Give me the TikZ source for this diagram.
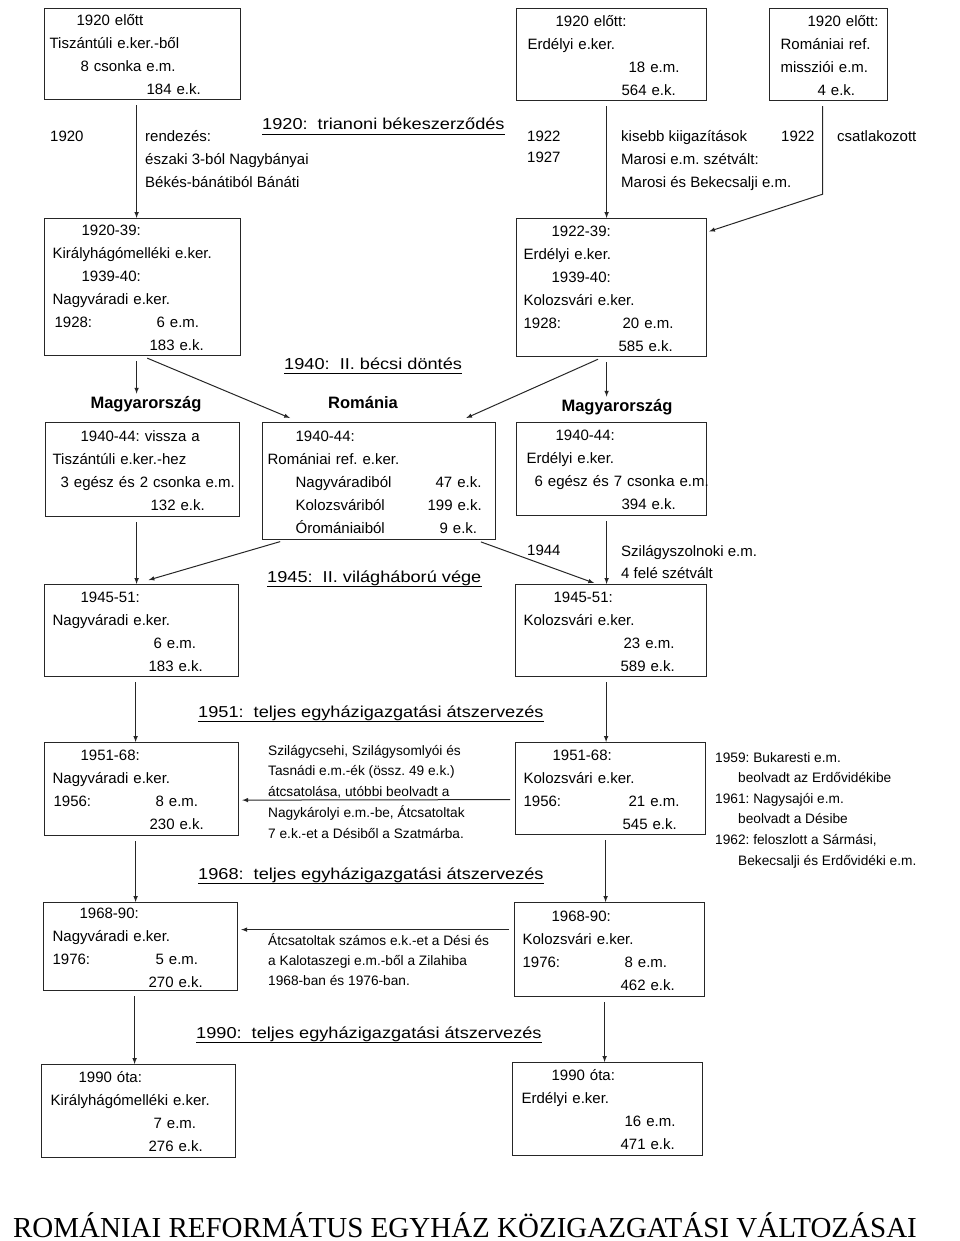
\documentclass[tikz,border=0pt]{standalone}
\usepackage{fontspec}
\setmainfont{Liberation Sans}
\newfontfamily\headfont[FakeStretch=1.15]{Liberation Sans}
\newfontfamily\titlefont{Liberation Serif}
\usepackage{tikz}
\usetikzlibrary{
  arrows,
  calc
}
\tikzset{>=latex}
\frenchspacing
% one line piece at a fixed distance from the left side of a box
\newcommand\putat[2]{\makebox[0pt][l]{\hspace*{#1pt}\rule[-3pt]{0pt}{18pt}#2}}
\tikzset{
  ebox/.style 2 args={draw=black!85, line width=1.2pt, anchor=north west,
    inner sep=0pt, text width=#1, minimum height=#2, align=left,
    font=\fontsize{15}{23}\selectfont},
  lbl/.style={anchor=base west, inner sep=0pt, font=\fontsize{15}{18}\selectfont},
  small/.style={anchor=base west, inner sep=0pt, font=\fontsize{13.7}{16}\selectfont},
  head/.style={anchor=base west, inner sep=0pt, font=\headfont\fontsize{15.8}{18}\selectfont},
  land/.style={anchor=base, inner sep=2pt, font=\bfseries\fontsize{16.5}{18}\selectfont},
  flow/.style={->, line width=1pt, draw=black!85, shorten <=5pt},
}

\begin{document}
\begin{tikzpicture}[x=1pt,y=-1pt]
  \useasboundingbox (0,0) rectangle (960,1241);

  % 1920 elott
  \node[ebox={196pt}{91pt}] (tisza1920) at (44,8) {%
    \putat{32}{1920 előtt}\\
    \putat{5}{Tiszántúli e.ker.-ből}\\
    \putat{36}{8 csonka e.m.}\\
    \putat{102}{184 e.k.}};
  \node[ebox={190pt}{92pt}] (erdely1920) at (516,8) {%
    \putat{39}{1920 előtt:}\\
    \putat{11}{Erdélyi e.ker.}\\
    \putat{112}{18 e.m.}\\
    \putat{105}{564 e.k.}};
  \node[ebox={118pt}{92pt}] (roman1920) at (769,8) {%
    \putat{38}{1920 előtt:}\\
    \putat{11}{Romániai ref.}\\
    \putat{11}{missziói e.m.}\\
    \putat{48}{4 e.k.}};

  \node[lbl] (ev1920) at (50,142) {1920};
  \foreach \t [count=\i] in {rendezés:, északi 3-ból Nagybányai, Békés-bánátiból Bánáti}
    \node[lbl] (rend-\i) at (145,{119+23*\i}) {\t};
  \node[lbl] (ev1922) at (527,142) {1922};
  \node[lbl] (ev1927) at (527,163) {1927};
  \foreach \t [count=\i] in {kisebb kiigazítások, Marosi e.m. szétvált:, Marosi és Bekecsalji e.m.}
    \node[lbl] (kig-\i) at (621,{119+23*\i}) {\t};
  \node[lbl] (csat1922) at (781,142) {1922};
  \node[lbl] (csatlakozott) at (837,142) {csatlakozott};

  % 1920-1940
  \node[ebox={196pt}{137pt}] (kiraly1920) at (44,218) {%
    \putat{37}{1920-39:}\\
    \putat{8}{Királyhágómelléki e.ker.}\\
    \putat{37}{1939-40:}\\
    \putat{8}{Nagyváradi e.ker.}\\
    \putat{10}{1928:}\putat{112}{6 e.m.}\\
    \putat{105}{183 e.k.}};
  \node[ebox={190pt}{138pt}] (erdely1922) at (516,218) {%
    \putat{35}{1922-39:}\\
    \putat{7}{Erdélyi e.ker.}\\
    \putat{35}{1939-40:}\\
    \putat{7}{Kolozsvári e.ker.}\\
    \putat{7}{1928:}\putat{106}{20 e.m.}\\
    \putat{102}{585 e.k.}};

  \node[land] (magyL) at (146,408) {Magyarország};
  \node[land] (romL) at (363,408) {Románia};
  \node[land] (magyR) at (617,411) {Magyarország};

  % 1940-44
  \node[ebox={194pt}{94pt}] (tisza1940) at (45,422) {%
    \putat{35}{1940-44: vissza a}\\
    \putat{7}{Tiszántúli e.ker.-hez}\\
    \putat{15}{3 egész és 2 csonka e.m.}\\
    \putat{105}{132 e.k.}};
  \node[ebox={233pt}{117pt}] (romania1940) at (262,422) {%
    \putat{33}{1940-44:}\\
    \putat{5}{Romániai ref. e.ker.}\\
    \putat{33}{Nagyváradiból}\putat{173}{47 e.k.}\\
    \putat{33}{Kolozsváriból}\putat{165}{199 e.k.}\\
    \putat{33}{Óromániaiból}\putat{177}{9 e.k.}};
  \node[ebox={190pt}{93pt}] (erdely1940) at (516,422) {%
    \putat{39}{1940-44:}\\
    \putat{10}{Erdélyi e.ker.}\\
    \putat{18}{6 egész és 7 csonka e.m.}\\
    \putat{105}{394 e.k.}};

  \node[lbl] (ev1944) at (527,555) {1944};
  \node[lbl] (szolnok-1) at (621,556) {Szilágyszolnoki e.m.};
  \node[lbl] (szolnok-2) at (621,578) {4 felé szétvált};

  % 1945-51
  \node[ebox={194pt}{92pt}] (nagyv1945) at (44,584) {%
    \putat{36}{1945-51:}\\
    \putat{8}{Nagyváradi e.ker.}\\
    \putat{109}{6 e.m.}\\
    \putat{104}{183 e.k.}};
  \node[ebox={191pt}{92pt}] (kolozs1945) at (515,584) {%
    \putat{38}{1945-51:}\\
    \putat{8}{Kolozsvári e.ker.}\\
    \putat{108}{23 e.m.}\\
    \putat{105}{589 e.k.}};

  % 1951-68
  \node[ebox={194pt}{93pt}] (nagyv1951) at (44,742) {%
    \putat{36}{1951-68:}\\
    \putat{8}{Nagyváradi e.ker.}\\
    \putat{9}{1956:}\putat{111}{8 e.m.}\\
    \putat{105}{230 e.k.}};
  \node[ebox={190pt}{92pt}] (kolozs1951) at (515,742) {%
    \putat{37}{1951-68:}\\
    \putat{8}{Kolozsvári e.ker.}\\
    \putat{8}{1956:}\putat{113}{21 e.m.}\\
    \putat{107}{545 e.k.}};

  \foreach \t [count=\i] in {{Szilágycsehi, Szilágysomlyói és}, Tasnádi e.m.-ék (össz. 49 e.k.),
      {átcsatolása, utóbbi beolvadt a}, {Nagykárolyi e.m.-be, Átcsatoltak}, 7 e.k.-et a Désiből a Szatmárba.}
    \node[small] (atcs51-\i) at (268,{734.2+20.8*\i}) {\t};
  \foreach \dx/\t [count=\i] in {715/1959: Bukaresti e.m., 738/beolvadt az Erdővidékibe,
      715/1961: Nagysajói e.m., 738/beolvadt a Désibe,
      {715/1962: feloszlott a Sármási,}, 738/Bekecsalji és Erdővidéki e.m.}
    \node[small] (kolv-\i) at (\dx,{741.4+20.6*\i}) {\t};

  % 1968-90
  \node[ebox={194pt}{88pt}] (nagyv1968) at (43,902) {%
    \putat{36}{1968-90:}\\
    \putat{9}{Nagyváradi e.ker.}\\
    \putat{9}{1976:}\putat{112}{5 e.m.}\\
    \putat{105}{270 e.k.}};
  \node[ebox={190pt}{94pt}] (kolozs1968) at (514,902) {%
    \putat{37}{1968-90:}\\
    \putat{8}{Kolozsvári e.ker.}\\
    \putat{8}{1976:}\putat{110}{8 e.m.}\\
    \putat{106}{462 e.k.}};

  \foreach \t [count=\i] in {Átcsatoltak számos e.k.-et a Dési és,
      a Kalotaszegi e.m.-ből a Zilahiba, 1968-ban és 1976-ban.}
    \node[small] (atcs68-\i) at (268,{925+20*\i}) {\t};

  % 1990 ota
  \node[ebox={194pt}{93pt}] (kiraly1990) at (41,1064) {%
    \putat{37}{1990 óta:}\\
    \putat{9}{Királyhágómelléki e.ker.}\\
    \putat{112}{7 e.m.}\\
    \putat{107}{276 e.k.}};
  \node[ebox={190pt}{93pt}] (erdely1990) at (512,1062) {%
    \putat{39}{1990 óta:}\\
    \putat{9}{Erdélyi e.ker.}\\
    \putat{112}{16 e.m.}\\
    \putat{108}{471 e.k.}};

  % events
  \node[head] (trianon) at (262,130) {1920:\ \ trianoni békeszerződés};
  \node[head] (becsi) at (284,369) {1940:\ \ II. bécsi döntés};
  \node[head] (vilagh) at (267,582) {1945:\ \ II. világháború vége};
  \node[head] (reorg51) at (198,717) {1951:\ \ teljes egyházigazgatási átszervezés};
  \node[head] (reorg68) at (198,879) {1968:\ \ teljes egyházigazgatási átszervezés};
  \node[head] (reorg90) at (196,1038) {1990:\ \ teljes egyházigazgatási átszervezés};
  \foreach \h in {trianon,becsi,vilagh,reorg51,reorg68,reorg90}
    \draw[line width=0.9pt] ($(\h.base west)+(0,4)$) -- ($(\h.base east)+(0,4)$);

  \node[anchor=base, inner sep=0pt, font=\titlefont\fontsize{29}{32}\selectfont] (cim) at (465,1237)
    {ROMÁNIAI REFORMÁTUS EGYHÁZ KÖZIGAZGATÁSI VÁLTOZÁSAI};

  % connectors
  \foreach \a/\b in {tisza1920/kiraly1920, kiraly1920/magyL, tisza1940/nagyv1945,
      nagyv1945/nagyv1951, nagyv1951/nagyv1968, nagyv1968/kiraly1990}
    \draw[flow] ($(\a.south)+(-6,0)$) -- ($(\a.south |- \b.north)+(-6,0)$);
  \foreach \a/\b in {erdely1920/erdely1922, erdely1922/magyR, erdely1940/kolozs1945,
      kolozs1945/kolozs1951, kolozs1951/kolozs1968, kolozs1968/erdely1990}
    \draw[flow] ($(\a.south)+(-5,0)$) -- ($(\a.south |- \b.north)+(-5,0)$);
  \draw[flow, shorten >=2pt] ($(roman1920.south)+(-6,0)$) -- ++(0,93) -- ($(erdely1922.north east)+(0,14)$);
  \draw[flow] (kiraly1920.south) -- ($(romania1940.north west)+(28,-4)$);
  \draw[flow] ($(erdely1922.south)+(-9,0)$) -- ($(romania1940.north east)+(-30,-4)$);
  \draw[flow] ($(romania1940.south west)+(23,0)$) -- ($(nagyv1945.north)+(7,-4)$);
  \draw[flow] ($(romania1940.south east)+(-20,0)$) -- ($(kolozs1945.north)+(-17,-1)$);
  \draw[flow] ($(kolozs1951.west)+(0,11)$) -- ($(nagyv1951.east)+(3,11)$);
  \draw[flow] ($(kolozs1968.west |- nagyv1968.east)+(0,-17)$) -- ($(nagyv1968.east)+(3,-17)$);
\end{tikzpicture}
\end{document}
